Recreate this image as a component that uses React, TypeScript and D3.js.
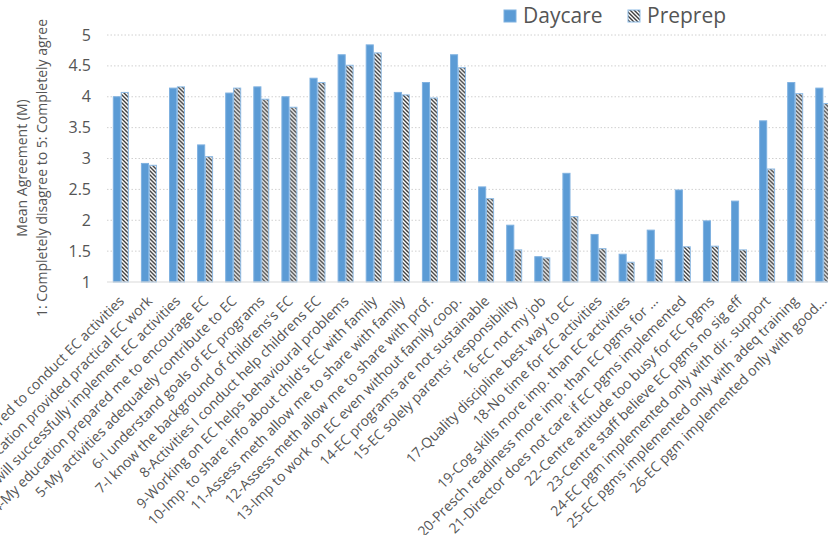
import React from "react";
import * as d3 from "d3";

const categories = [
  "1-I feel prepared to conduct EC activities",
  "2-My education provided practical EC work",
  "3-I will successfully implement EC  activities",
  "4-My education prepared me to encourage EC",
  "5-My activities adequately contribute to EC",
  "6-I understand goals of EC programs",
  "7-I know the background of childrens's EC",
  "8-Activities I conduct help childrens EC",
  "9-Working on EC helps behavioural problems",
  "10-Imp. to share info about child's EC with family",
  "11-Assess meth allow me to share with family",
  "12-Assess meth allow me to share with prof.",
  "13-Imp to work on EC even without family coop.",
  "14-EC programs are not sustainable",
  "15-EC solely parents' responsibility",
  "16-EC not my job",
  "17-Quality discipline best way to EC",
  "18-No time for EC activities",
  "19-Cog skills more imp. than EC activities",
  "20-Presch readiness more imp. than EC pgms for ...",
  "21-Director does not care if EC pgms implemented",
  "22-Centre attitude too busy for EC pgms",
  "23-Centre staff believe EC pgms no sig eff",
  "24-EC pgm implemented only with dir. support",
  "25-EC pgms implemented only with adeq training",
  "26-EC pgm implemented only with good...",
];

const series = ["Daycare", "Preprep"];

const daycare = [
  4.0, 2.92, 4.14, 3.22, 4.06, 4.16, 4.0, 4.3, 4.68, 4.84, 4.07, 4.23, 4.68,
  2.54, 1.92, 1.41, 2.76, 1.77, 1.45, 1.84, 2.49, 1.99, 2.31, 3.61, 4.23, 4.14,
];
const preprep = [
  4.07, 2.89, 4.16, 3.03, 4.14, 3.96, 3.83, 4.23, 4.51, 4.71, 4.03, 3.98, 4.47,
  2.35, 1.52, 1.39, 2.06, 1.54, 1.32, 1.36, 1.57, 1.58, 1.52, 2.83, 4.05, 3.89,
];

const yTicks = [1, 1.5, 2, 2.5, 3, 3.5, 4, 4.5, 5];

const W = 828;
const H = 535;
const FONT = "'Open Sans', sans-serif";
const TXT = "#555555";
const BLUE = "#5B9BD5";

export default function App() {
  const plotLeft = 107;
  const cw = 28.1;
  const x0 = d3
    .scaleBand<string>()
    .domain(categories)
    .range([plotLeft, plotLeft + cw * categories.length])
    .padding(0);
  const x1 = d3
    .scaleBand<string>()
    .domain(series)
    .range([6.3, 21.3])
    .paddingInner(0.1);
  const y = d3.scaleLinear().domain([1, 5]).range([282, 35]);
  const plotRight = W;

  const values: Record<string, number[]> = { Daycare: daycare, Preprep: preprep };

  return (
    <svg
      width={W}
      height={H}
      style={{ position: "absolute", left: 0, top: 0, background: "#fff" }}
      fontFamily={FONT}
    >
      <defs>
        <pattern id="hatch" patternUnits="userSpaceOnUse" width="4" height="4">
          <rect width="4" height="4" fill="#fff" />
          <path d="M-1,-1 L5,5 M-1,3 L1,5 M3,-1 L5,1" stroke="#3F3F3F" strokeWidth="1.4" />
        </pattern>
      </defs>
      {yTicks.map((t) =>
        t === 1 ? null : (
          <line
            key={t}
            x1={plotLeft}
            x2={plotRight}
            y1={y(t)}
            y2={y(t)}
            stroke="#D0D0D0"
            strokeWidth={1}
            strokeDasharray="1.5,2"
          />
        )
      )}
      {categories.map((c, i) => (
        <g key={c} transform={`translate(${x0(c)},0)`}>
          {series.map((s) => {
            const v = values[s][i];
            return (
              <rect
                key={s}
                x={x1(s)}
                y={y(v)}
                width={x1.bandwidth()}
                height={y(1) - y(v)}
                fill={s === "Daycare" ? BLUE : "url(#hatch)"}
                stroke={s === "Daycare" ? "#7FB1E0" : "#8DBBE6"}
                strokeWidth={1}
              />
            );
          })}
        </g>
      ))}
      <line x1={plotLeft} x2={plotRight} y1={y(1)} y2={y(1)} stroke="#D9D9D9" strokeWidth={1.2} />
      {yTicks.map((t) => (
        <text
          key={t}
          x={91}
          y={y(t)}
          dy="0.35em"
          textAnchor="end"
          fontSize={16}
          fill={TXT}
        >
          {t}
        </text>
      ))}
      <text
        transform={`translate(27,168) rotate(-90)`}
        textAnchor="middle"
        fontSize={14}
        fill={TXT}
      >
        Mean Agreement (M)
      </text>
      <text
        transform={`translate(47,168) rotate(-90)`}
        textAnchor="middle"
        fontSize={14}
        fill={TXT}
      >
        1: Completely disagree to 5: Completely agree
      </text>
      {categories.map((c) => (
        <text
          key={c}
          transform={`translate(${(x0(c) as number) + cw / 2 + 4},${302}) rotate(-45)`}
          textAnchor="end"
          fontSize={14}
          fill={TXT}
        >
          {c}
        </text>
      ))}
      <rect x={504} y={10} width={12} height={12} fill={BLUE} stroke="#7FB1E0" />
      <text x={523} y={23} fontSize={21} fill={TXT}>
        Daycare
      </text>
      <rect x={628} y={10} width={12} height={12} fill="url(#hatch)" stroke="#8DBBE6" />
      <text x={647} y={23} fontSize={21} fill={TXT}>
        Preprep
      </text>
    </svg>
  );
}
